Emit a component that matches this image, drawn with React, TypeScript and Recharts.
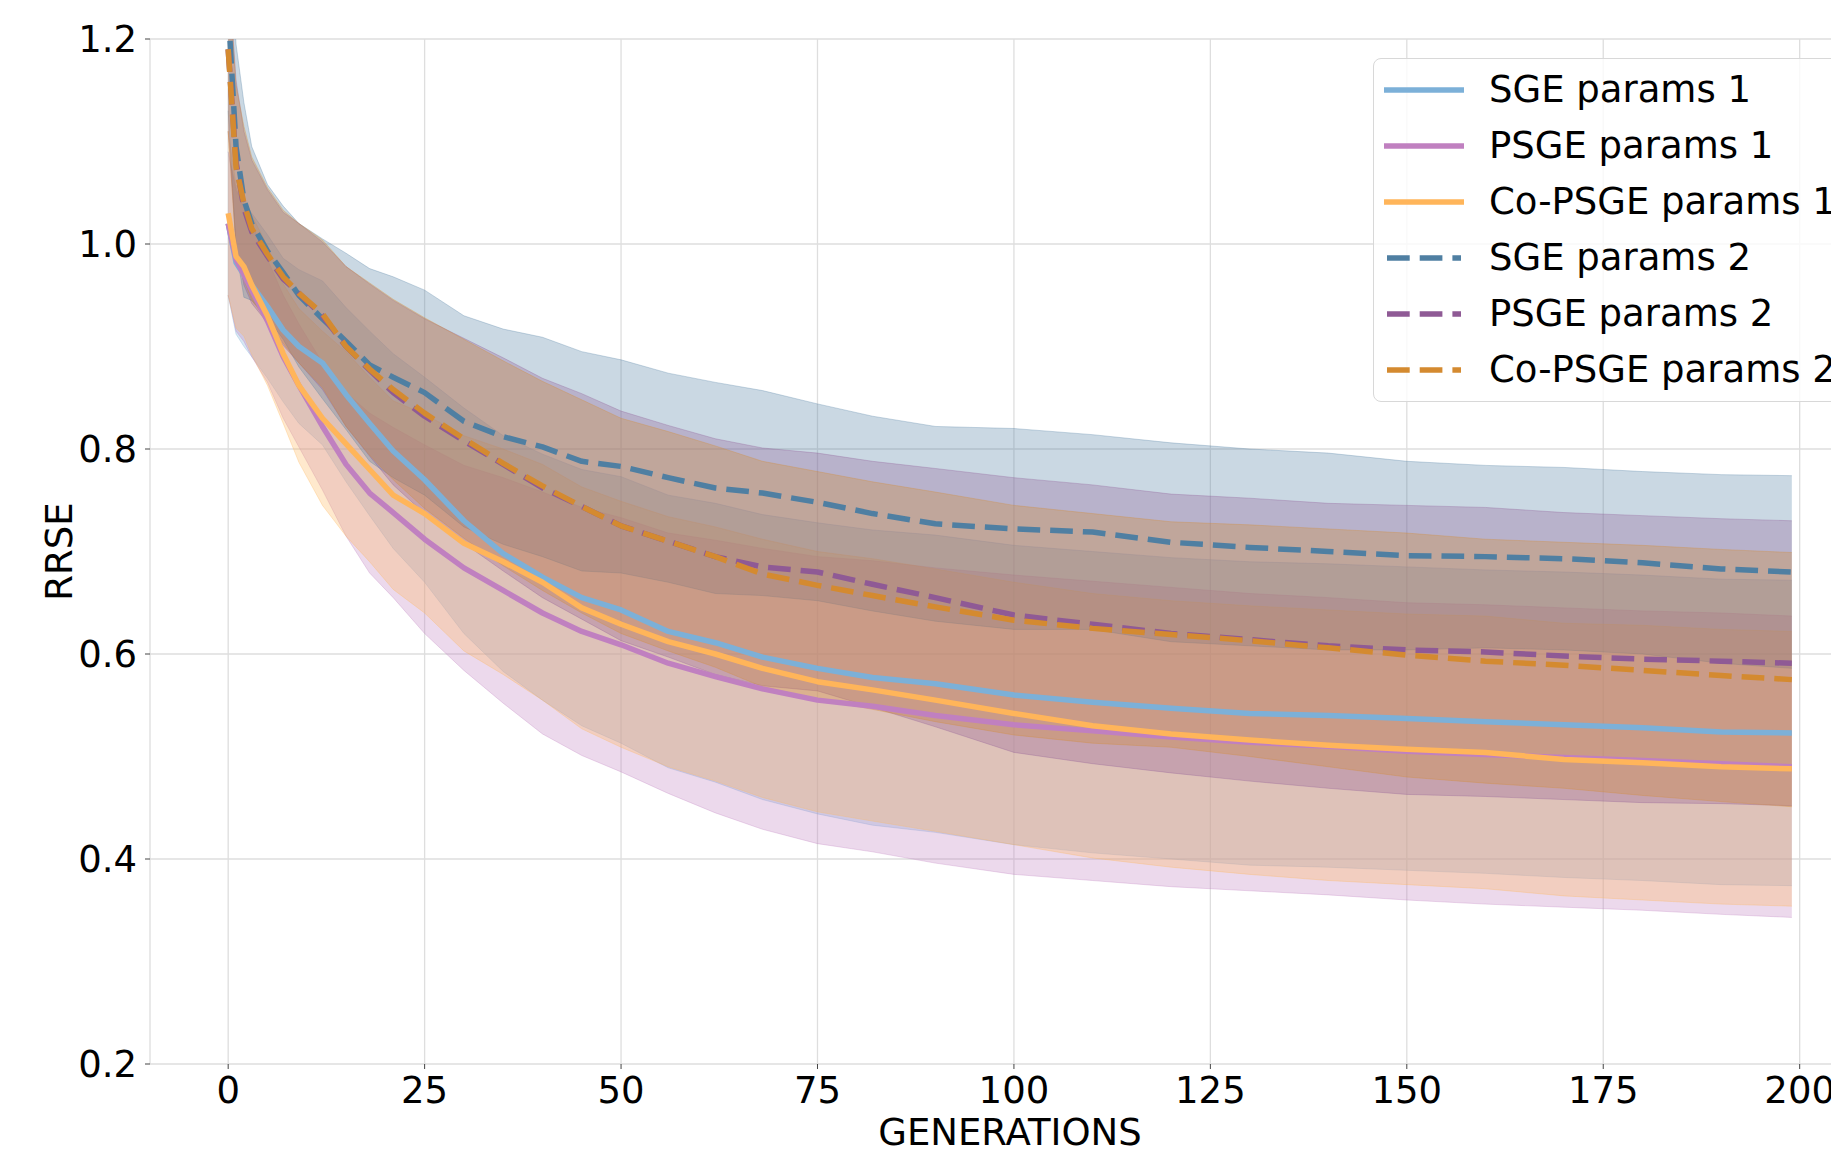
import React from 'react'
import {
  Area,
  CartesianGrid,
  ComposedChart,
  Legend,
  Line,
  XAxis,
  YAxis,
} from 'recharts'

const gens = [
  0, 1, 2, 3, 5, 7, 9, 12, 15, 18, 21, 25, 30, 35, 40, 45, 50, 56, 62, 68, 75,
  82, 90, 100, 110, 120, 130, 140, 150, 160, 170, 180, 190, 199,
]

const sge1Mean = [
  1.02, 0.982, 0.97, 0.96, 0.939, 0.916, 0.9, 0.884, 0.853, 0.825, 0.798, 0.77,
  0.73, 0.698, 0.675, 0.655, 0.643, 0.622, 0.611, 0.597, 0.586, 0.577, 0.571,
  0.56, 0.553, 0.547, 0.542, 0.54, 0.537, 0.534, 0.531, 0.528, 0.524, 0.523,
]
const sge1Sd = [
  0.07, 0.07, 0.07, 0.07, 0.07, 0.07, 0.075, 0.08, 0.085, 0.09, 0.095, 0.1,
  0.11, 0.115, 0.12, 0.125, 0.13, 0.133, 0.136, 0.139, 0.142, 0.144, 0.145,
  0.146, 0.147, 0.147, 0.148, 0.148, 0.148, 0.148, 0.149, 0.149, 0.149, 0.149,
]

const psge1Mean = [
  1.02, 0.985, 0.97, 0.955, 0.925, 0.89, 0.862, 0.822, 0.785, 0.757, 0.738,
  0.712, 0.684, 0.662, 0.64, 0.622, 0.609, 0.591, 0.578, 0.566, 0.555, 0.549,
  0.54, 0.531, 0.525, 0.519, 0.514, 0.51, 0.505, 0.502, 0.499, 0.496, 0.493,
  0.49,
]
const psge1Sd = [
  0.07, 0.07, 0.065, 0.065, 0.06, 0.06, 0.06, 0.062, 0.07, 0.078, 0.083, 0.092,
  0.1, 0.11, 0.118, 0.121, 0.124, 0.127, 0.133, 0.137, 0.14, 0.142, 0.144,
  0.146, 0.146, 0.146, 0.145, 0.145, 0.145, 0.146, 0.146, 0.146, 0.147, 0.147,
]

const copsge1Mean = [
  1.03, 0.988, 0.978, 0.96, 0.93, 0.893, 0.862, 0.83, 0.805, 0.78, 0.755,
  0.737, 0.708, 0.69, 0.67, 0.645, 0.629, 0.612, 0.6, 0.586, 0.573, 0.565,
  0.555, 0.542, 0.53, 0.522, 0.516, 0.511, 0.507, 0.504, 0.497, 0.494, 0.49,
  0.488,
]
const copsge1Sd = [
  0.08, 0.07, 0.068, 0.068, 0.068, 0.068, 0.075, 0.085, 0.09, 0.09, 0.092,
  0.097, 0.105, 0.11, 0.115, 0.118, 0.12, 0.122, 0.124, 0.126, 0.127, 0.128,
  0.128, 0.128, 0.129, 0.13, 0.131, 0.132, 0.132, 0.133, 0.133, 0.134, 0.134,
  0.134,
]

const sge2Mean = [
  1.23, 1.095, 1.043, 1.02, 0.993, 0.972, 0.95, 0.927, 0.905, 0.882, 0.87,
  0.855, 0.827, 0.812, 0.802, 0.788, 0.783, 0.772, 0.762, 0.757, 0.748, 0.737,
  0.727, 0.722, 0.719, 0.709, 0.704, 0.7, 0.696, 0.695, 0.693, 0.689, 0.683,
  0.68,
]
const sge2Sd = [
  0.1, 0.1, 0.095, 0.075, 0.065, 0.065, 0.07, 0.078, 0.086, 0.094, 0.098, 0.1,
  0.103, 0.105, 0.107, 0.107, 0.104, 0.102, 0.103, 0.1, 0.096, 0.095, 0.095,
  0.098, 0.095, 0.097, 0.096, 0.096, 0.092, 0.089, 0.089, 0.089, 0.092, 0.094,
]

const psge2Mean = [
  1.19, 1.08, 1.035, 1.012, 0.988, 0.966, 0.952, 0.93, 0.9, 0.877, 0.855,
  0.832, 0.808, 0.785, 0.762, 0.744, 0.725, 0.71, 0.695, 0.685, 0.68, 0.668,
  0.655, 0.638, 0.629, 0.62, 0.614, 0.608, 0.604, 0.602, 0.598, 0.595, 0.593,
  0.591,
]
const psge2Sd = [
  0.08, 0.08, 0.075, 0.07, 0.065, 0.065, 0.068, 0.072, 0.078, 0.084, 0.09,
  0.095, 0.1, 0.104, 0.107, 0.11, 0.112, 0.113, 0.115, 0.116, 0.116, 0.12,
  0.126, 0.134, 0.136, 0.136, 0.138, 0.139, 0.141, 0.141, 0.14, 0.14, 0.139,
  0.139,
]

const copsge2Mean = [
  1.19, 1.075, 1.04, 1.015, 0.99, 0.968, 0.952, 0.932, 0.9, 0.878, 0.858,
  0.835, 0.81, 0.786, 0.764, 0.744, 0.725, 0.71, 0.695, 0.678, 0.667, 0.657,
  0.646, 0.633, 0.625, 0.619, 0.613, 0.606, 0.599, 0.593, 0.589, 0.584, 0.579,
  0.575,
]
const copsge2Sd = [
  0.08, 0.08, 0.075, 0.07, 0.065, 0.065, 0.068, 0.072, 0.078, 0.084, 0.088,
  0.093, 0.097, 0.1, 0.102, 0.104, 0.105, 0.107, 0.108, 0.11, 0.111, 0.111,
  0.112, 0.112, 0.112, 0.11, 0.113, 0.116, 0.119, 0.119, 0.12, 0.122, 0.123,
  0.124,
]

const xTicks = [0, 25, 50, 75, 100, 125, 150, 175, 200]
const yTicks = [0.2, 0.4, 0.6, 0.8, 1.0, 1.2]

const FONT = 'DejaVu Sans, Verdana, sans-serif'
const DASH = '22.7 10'

const series = [
  { key: 'sge1', name: 'SGE params 1', color: '#7cb0d8', dashed: false, mean: sge1Mean, sd: sge1Sd },
  { key: 'psge1', name: 'PSGE params 1', color: '#c080c0', dashed: false, mean: psge1Mean, sd: psge1Sd },
  { key: 'copsge1', name: 'Co-PSGE params 1', color: '#ffb55a', dashed: false, mean: copsge1Mean, sd: copsge1Sd },
  { key: 'sge2', name: 'SGE params 2', color: '#4f7fa2', dashed: true, mean: sge2Mean, sd: sge2Sd },
  { key: 'psge2', name: 'PSGE params 2', color: '#8f5a95', dashed: true, mean: psge2Mean, sd: psge2Sd },
  { key: 'copsge2', name: 'Co-PSGE params 2', color: '#d48a30', dashed: true, mean: copsge2Mean, sd: copsge2Sd },
]

const data = gens.map((g, i) => {
  const row: Record<string, any> = { g }
  series.forEach((s) => {
    row[s.key] = s.mean[i]
    row[s.key + 'Band'] = [s.mean[i] - s.sd[i], s.mean[i] + s.sd[i]]
  })
  return row
})

function LegendBox() {
  return (
    <div
      style={{
        background: 'rgba(255,255,255,0.8)',
        border: '1.5px solid #d8d8d8',
        borderRadius: 8,
        padding: '3px 0 3px 10px',
        width: 520,
        fontFamily: FONT,
        fontSize: 37,
        color: '#000',
      }}
    >
      {series.map((s) => (
        <div
          key={s.key}
          style={{ height: 56, display: 'flex', alignItems: 'center', whiteSpace: 'nowrap' }}
        >
          <svg width={80} height={10} style={{ flex: 'none' }}>
            <line
              x1={s.dashed ? 3 : 0}
              x2={s.dashed ? 77 : 80}
              y1={5}
              y2={5}
              stroke={s.color}
              strokeWidth={5.7}
              strokeDasharray={s.dashed ? DASH : undefined}
            />
          </svg>
          <span style={{ marginLeft: 25, lineHeight: '56px' }}>{s.name}</span>
        </div>
      ))}
    </div>
  )
}

export default function App() {
  return (
    <div
      style={{
        position: 'fixed',
        left: 0,
        top: 0,
        width: 1831,
        height: 1160,
        overflow: 'hidden',
        background: '#fff',
      }}
    >
      <ComposedChart
        width={1880}
        height={1160}
        data={data}
        margin={{ top: 39, right: 10, bottom: 0, left: 0 }}
      >
        <CartesianGrid stroke="#dedede" strokeWidth={1.3} />
        <XAxis
          dataKey="g"
          type="number"
          domain={[-9.95, 208.95]}
          ticks={xTicks}
          allowDataOverflow
          height={96}
          axisLine={false}
          tickSize={5}
          tickMargin={8}
          tickLine={{ stroke: '#444' }}
          tick={{ fontSize: 37, fill: '#000', fontFamily: FONT }}
          label={{
            content: (p: any) => (
              <text
                x={p.viewBox.x + p.viewBox.width / 2}
                y={p.viewBox.y + 81}
                textAnchor="middle"
                fontSize={37}
                fontFamily={FONT}
                fill="#000"
              >
                GENERATIONS
              </text>
            ),
          }}
        />
        <YAxis
          type="number"
          domain={[0.2, 1.2]}
          ticks={yTicks}
          allowDataOverflow
          width={150}
          axisLine={false}
          tickSize={5}
          tickMargin={8}
          tickLine={{ stroke: '#444' }}
          tickFormatter={(v: number) => v.toFixed(1)}
          tick={{ fontSize: 37, fill: '#000', fontFamily: FONT }}
          label={{
            content: (p: any) => (
              <text
                x={72}
                y={p.viewBox.y + p.viewBox.height / 2}
                transform={`rotate(-90, 72, ${p.viewBox.y + p.viewBox.height / 2})`}
                textAnchor="middle"
                fontSize={37}
                fontFamily={FONT}
                fill="#000"
              >
                RRSE
              </text>
            ),
          }}
        />
        {series.map((s) => (
          <Area
            key={s.key + 'Band'}
            dataKey={s.key + 'Band'}
            type="linear"
            fill={s.color}
            fillOpacity={0.3}
            stroke={s.color}
            strokeOpacity={0.3}
            strokeWidth={1}
            legendType="none"
            dot={false}
            activeDot={false}
            isAnimationActive={false}
          />
        ))}
        {series.map((s) => (
          <Line
            key={s.key}
            dataKey={s.key}
            name={s.name}
            type="linear"
            stroke={s.color}
            strokeWidth={5.5}
            strokeDasharray={s.dashed ? DASH : undefined}
            strokeLinejoin="round"
            dot={false}
            activeDot={false}
            isAnimationActive={false}
          />
        ))}
        <Legend
          layout="vertical"
          align="center"
          verticalAlign="middle"
          wrapperStyle={{ left: 1373, top: 58, width: 'auto', height: 'auto' }}
          content={() => <LegendBox />}
        />
      </ComposedChart>
    </div>
  )
}
